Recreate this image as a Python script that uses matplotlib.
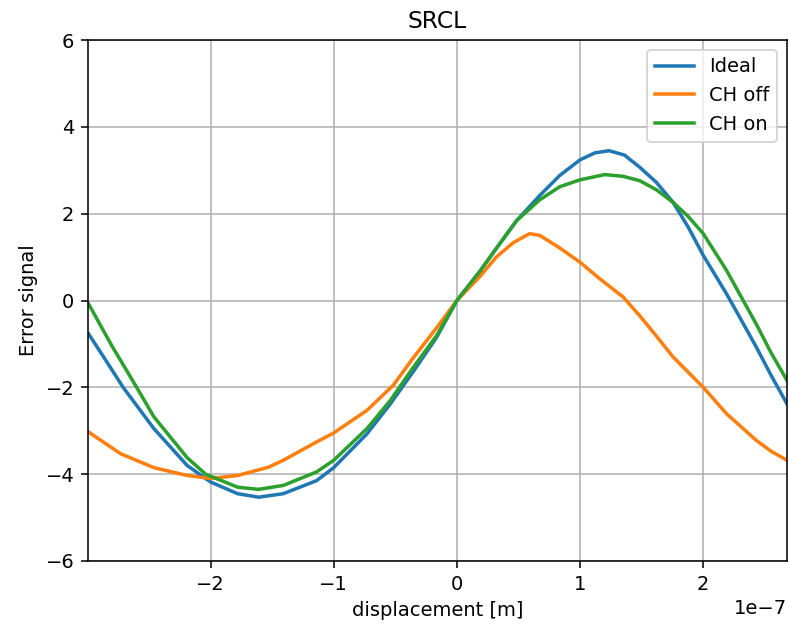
import numpy as np
import matplotlib
matplotlib.use('Agg')
import matplotlib.pyplot as plt

# displacement in units of 1e-7 m
x_ideal = [-2.99, -2.85, -2.71, -2.46, -2.19, -2.0, -1.78, -1.61, -1.41, -1.14, -1.0,
           -0.73, -0.54, -0.35, -0.165, 0.0, 0.186, 0.32, 0.485, 0.673, 0.835, 1.0,
           1.12, 1.235, 1.36, 1.484, 1.62, 1.755, 1.88, 2.0, 2.19, 2.295, 2.43, 2.55, 2.68]
y_ideal = [-0.77, -1.38, -2.0, -2.95, -3.8, -4.18, -4.45, -4.53, -4.45, -4.15, -3.85,
           -3.07, -2.38, -1.62, -0.85, 0.0, 0.67, 1.2, 1.84, 2.42, 2.88, 3.24,
           3.4, 3.45, 3.35, 3.07, 2.72, 2.26, 1.68, 1.04, 0.15, -0.38, -1.07, -1.72, -2.38]

x_off = [-2.99, -2.73, -2.46, -2.19, -2.0, -1.78, -1.53, -1.41, -1.14, -1.0,
         -0.73, -0.516, -0.354, -0.165, 0.0, 0.186, 0.32, 0.457, 0.59, 0.673,
         0.835, 1.0, 1.16, 1.35, 1.484, 1.62, 1.755, 2.0, 2.19, 2.43, 2.55, 2.68]
y_off = [-3.03, -3.53, -3.85, -4.03, -4.1, -4.03, -3.84, -3.68, -3.26, -3.05,
         -2.53, -1.95, -1.32, -0.63, 0.0, 0.55, 1.0, 1.33, 1.54, 1.5,
         1.21, 0.88, 0.5, 0.08, -0.35, -0.82, -1.3, -2.0, -2.61, -3.22, -3.47, -3.68]

x_on = [-2.99, -2.8, -2.6, -2.46, -2.19, -2.04, -1.78, -1.61, -1.41, -1.14, -1.0,
        -0.73, -0.54, -0.354, -0.165, 0.0, 0.186, 0.32, 0.485, 0.673, 0.835, 1.0,
        1.2, 1.35, 1.484, 1.62, 1.755, 1.88, 2.0, 2.19, 2.295, 2.43, 2.55, 2.68]
y_on = [-0.08, -1.05, -2.0, -2.68, -3.62, -4.0, -4.3, -4.35, -4.26, -3.95, -3.68,
        -2.95, -2.3, -1.54, -0.81, 0.0, 0.67, 1.2, 1.84, 2.32, 2.62, 2.78,
        2.9, 2.86, 2.76, 2.55, 2.26, 1.93, 1.54, 0.69, 0.15, -0.54, -1.2, -1.84]

fig = plt.figure(figsize=(789 / 140, 624 / 140), dpi=140)
ax = fig.add_axes([88 / 789, 1 - 561 / 624, (787 - 88) / 789, (561 - 40) / 624])

scale = 1e-7
ax.plot(np.array(x_ideal) * scale, y_ideal, lw=1.8, label='Ideal')
ax.plot(np.array(x_off) * scale, y_off, lw=1.8, label='CH off')
ax.plot(np.array(x_on) * scale, y_on, lw=1.8, label='CH on')

ax.set_xlim(-2.995e-7, 2.68e-7)
ax.set_ylim(-6, 6)
ax.grid(True)
ax.set_title('SRCL')
ax.set_xlabel('displacement [m]')
ax.set_ylabel('Error signal')
ax.legend(loc='upper right')

fig.savefig('out.png', dpi=140)
